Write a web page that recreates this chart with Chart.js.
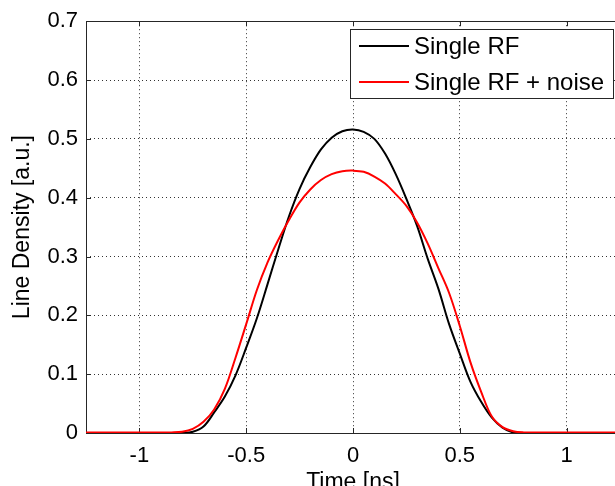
<!DOCTYPE html>
<html>
<head>
<meta charset="utf-8">
<script src="https://cdn.jsdelivr.net/npm/chart.js@4.4.0/dist/chart.umd.min.js"></script>
<style>
  html, body { margin: 0; padding: 0; background: #fff; overflow: hidden; }
  #wrap { width: 615px; height: 486px; overflow: hidden; position: relative; }
  #wrap canvas { position: absolute; left: 0; top: 0; }
</style>
</head>
<body>
<div id="wrap"><canvas id="chart" width="620" height="505"></canvas></div>
<script>
// time axis [ns] and line density [a.u.]
const timeNs = [-1.25, -1.2, -1.15, -1.1, -1.05, -1.0, -0.95, -0.9, -0.85, -0.8,
  -0.75, -0.7, -0.65, -0.6, -0.55, -0.5, -0.45, -0.4, -0.35, -0.3,
  -0.25, -0.2, -0.15, -0.1, -0.05, 0, 0.05, 0.1, 0.15, 0.2,
  0.25, 0.3, 0.35, 0.4, 0.45, 0.5, 0.55, 0.6, 0.65, 0.7,
  0.75, 0.8, 0.85, 0.9, 0.95, 1.0, 1.05, 1.1, 1.15, 1.2, 1.25];

const singleRf = [0, 0, 0, 0, 0, 0, 0, 0, 0, 0,
  0.002, 0.011, 0.035, 0.062, 0.098, 0.145, 0.195, 0.253, 0.312, 0.368,
  0.415, 0.452, 0.482, 0.502, 0.513, 0.516, 0.512, 0.500, 0.475, 0.440,
  0.398, 0.352, 0.296, 0.245, 0.185, 0.135, 0.087, 0.053, 0.026, 0.009,
  0.001, 0, 0, 0, 0, 0, 0, 0, 0, 0, 0];

const singleRfNoise = [0.001, 0.001, 0.001, 0.001, 0.001, 0.001, 0.001, 0.001, 0.001, 0.002,
  0.007, 0.019, 0.040, 0.075, 0.128, 0.185, 0.243, 0.290, 0.328, 0.362,
  0.392, 0.414, 0.430, 0.440, 0.445, 0.446, 0.444, 0.436, 0.424, 0.406,
  0.386, 0.358, 0.322, 0.280, 0.238, 0.182, 0.120, 0.070, 0.028, 0.010,
  0.003, 0.001, 0.001, 0.001, 0.001, 0.001, 0.001, 0.001, 0.001, 0.001, 0.001];

const xTicks = [-1, -0.5, 0, 0.5, 1];
const yTicks = [0, 0.1, 0.2, 0.3, 0.4, 0.5, 0.6, 0.7];

const FONT = '"Liberation Sans", Arial, Helvetica, sans-serif';
const AXIS = '#262626';

const toPoints = (ys) => timeNs.map((t, i) => ({ x: t, y: ys[i] }));

// axes box + inward ticks, matlab style
const matlabBox = {
  id: 'matlabBox',
  beforeDatasetsDraw(chart) {
    const ctx = chart.ctx, a = chart.chartArea;
    const xs = chart.scales.x, ys = chart.scales.y;
    ctx.save();
    ctx.strokeStyle = AXIS;
    ctx.lineWidth = 1;
    ctx.strokeRect(Math.round(a.left) + 0.5, Math.round(a.top) + 0.5,
      Math.round(a.right - a.left), Math.round(a.bottom - a.top));
    ctx.beginPath();
    xTicks.forEach(v => {
      const px = Math.round(xs.getPixelForValue(v)) + 0.5;
      ctx.moveTo(px, a.bottom); ctx.lineTo(px, a.bottom - 5);
      ctx.moveTo(px, a.top); ctx.lineTo(px, a.top + 5);
    });
    yTicks.forEach(v => {
      const py = Math.round(ys.getPixelForValue(v)) + 0.5;
      ctx.moveTo(a.left, py); ctx.lineTo(a.left + 5, py);
      ctx.moveTo(a.right, py); ctx.lineTo(a.right - 5, py);
    });
    ctx.stroke();
    ctx.restore();
  }
};

// boxed legend in the top right corner
const boxLegend = {
  id: 'boxLegend',
  afterDraw(chart) {
    const ctx = chart.ctx, a = chart.chartArea;
    const sets = chart.data.datasets;
    ctx.save();
    ctx.font = '24px ' + FONT;
    const textW = Math.max(...sets.map(d => ctx.measureText(d.label).width));
    const lineLen = 50, gap = 5, padL = 9, padR = 9, rowH = 36;
    const w = Math.round(padL + lineLen + gap + textW + padR);
    const h = 69;
    const right = 613, top = Math.round(a.top) + 8;
    const left = right - w;
    ctx.fillStyle = '#fff';
    ctx.fillRect(left, top, w, h);
    ctx.strokeStyle = AXIS;
    ctx.lineWidth = 1;
    ctx.strokeRect(left + 0.5, top + 0.5, w, h);
    sets.forEach((d, i) => {
      const cy = top + 17 + i * rowH;
      ctx.strokeStyle = d.borderColor;
      ctx.lineWidth = 2;
      ctx.beginPath();
      ctx.moveTo(left + padL, cy);
      ctx.lineTo(left + padL + lineLen, cy);
      ctx.stroke();
      ctx.fillStyle = '#000';
      ctx.textBaseline = 'middle';
      ctx.fillText(d.label, left + padL + lineLen + gap, cy + 1);
    });
    ctx.restore();
  }
};

new Chart(document.getElementById('chart'), {
  type: 'line',
  data: {
    datasets: [
      {
        label: 'Single RF',
        data: toPoints(singleRf),
        borderColor: '#000000',
        borderWidth: 2,
        pointRadius: 0,
        tension: 0.35,
        order: 1
      },
      {
        label: 'Single RF + noise',
        data: toPoints(singleRfNoise),
        borderColor: '#ff0000',
        borderWidth: 2,
        pointRadius: 0,
        tension: 0.35,
        order: 0
      }
    ]
  },
  options: {
    responsive: false,
    animation: false,
    layout: { padding: { top: 19, right: 0, left: 0, bottom: 0 } },
    plugins: {
      legend: { display: false },
      tooltip: { enabled: false }
    },
    scales: {
      x: {
        type: 'linear',
        min: -1.25,
        max: 1.25,
        afterFit: (s) => { s.height = 72; },
        afterBuildTicks: (s) => { s.ticks = xTicks.map(v => ({ value: v })); },
        border: { display: false, dash: [1, 3] },
        grid: {
          color: '#333',
          lineWidth: 1,
          drawTicks: false
        },
        ticks: {
          padding: 10,
          color: '#000',
          font: { family: FONT, size: 22 },
          maxRotation: 0,
          callback: (v) => String(v)
        },
        title: {
          display: true,
          text: 'Time [ns]',
          color: '#000',
          font: { family: FONT, size: 23 },
          padding: { top: 2, bottom: 9 }
        }
      },
      y: {
        min: 0,
        max: 0.7,
        afterFit: (s) => { s.width = 86; },
        afterBuildTicks: (s) => { s.ticks = yTicks.map(v => ({ value: v })); },
        border: { display: false, dash: [1, 3] },
        grid: {
          color: '#333',
          lineWidth: 1,
          drawTicks: false
        },
        ticks: {
          padding: 8,
          color: '#000',
          font: { family: FONT, size: 22 },
          callback: (v) => String(v)
        },
        title: {
          display: true,
          text: 'Line Density [a.u.]',
          color: '#000',
          font: { family: FONT, size: 23 },
          padding: { top: 9, bottom: 0 }
        }
      }
    }
  },
  plugins: [matlabBox, boxLegend]
});
</script>
</body>
</html>
